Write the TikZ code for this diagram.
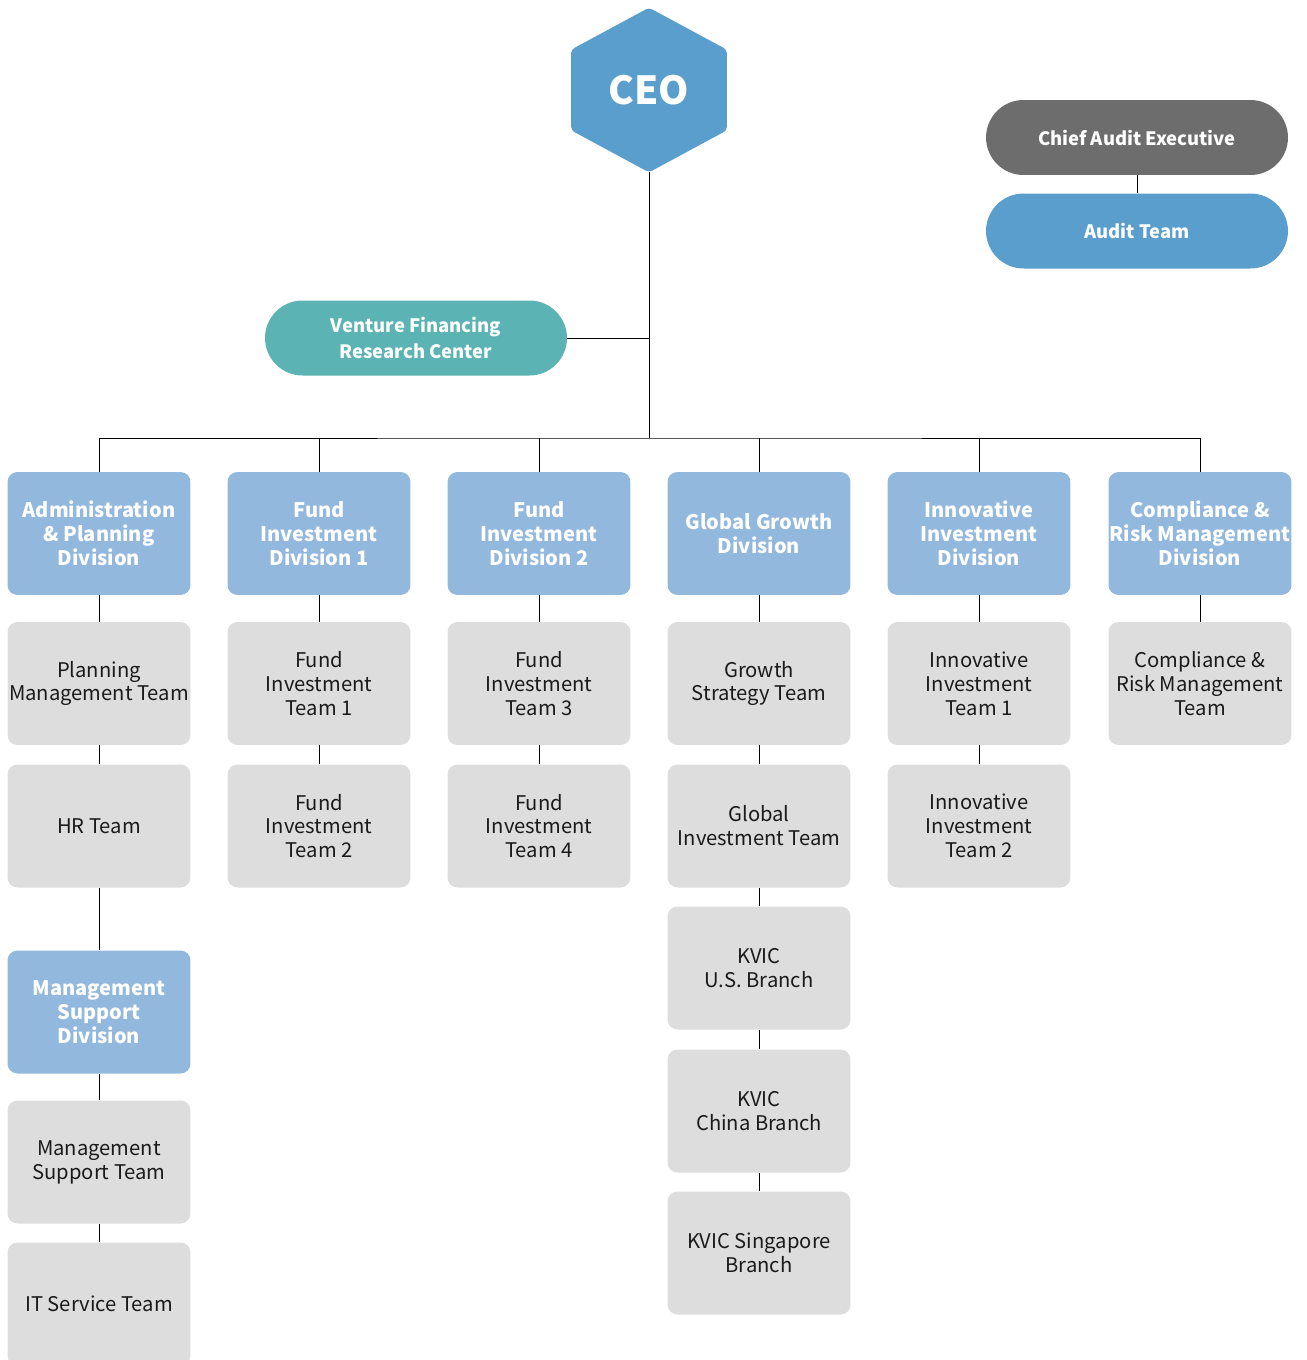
\documentclass[tikz,border=0pt]{standalone}
\usepackage{fontspec}
\setmainfont{Noto Sans CJK KR}
\usetikzlibrary{backgrounds}
\definecolor{ceoblue}{HTML}{5A9ECE}
\definecolor{divblue}{HTML}{92B8DD}
\definecolor{teamgray}{HTML}{DDDDDD}
\definecolor{centerteal}{HTML}{5BB3B3}
\definecolor{auditgray}{HTML}{6D6D6D}
\definecolor{teamtext}{HTML}{1A1A1A}
\tikzset{
  box/.style={rounded corners=0.2cm, minimum width=3.66cm, minimum height=2.46cm,
    align=center, inner sep=0pt, font=\fontsize{11.5}{13.6}\selectfont},
  div/.style={box, fill=divblue, text=white, font=\bfseries\fontsize{11.4}{13.6}\selectfont},
  team/.style={box, fill=teamgray, text=teamtext},
  pill/.style={rounded corners=0.75cm, minimum width=6.04cm, minimum height=1.5cm,
    align=center, inner sep=0pt, text=white, font=\bfseries\fontsize{10.5}{15.3}\selectfont},
  link/.style={line width=0.7pt, black}
}
\begin{document}
\begin{tikzpicture}[x=0.02cm, y=-0.02cm]
  \useasboundingbox (0,0) rectangle (1306,1360);
  % top of the chart
  \node[minimum width=3.1cm, minimum height=3.28cm, inner sep=0pt, text=white,
    font=\bfseries\fontsize{22}{22}\selectfont] (ceo) at (649,90) {CEO};
  \begin{scope}[on background layer]
    \fill[ceoblue, rounded corners=2pt] (ceo.north)
      -- ([yshift=-0.84cm]ceo.north east) -- ([yshift=0.84cm]ceo.south east)
      -- (ceo.south) -- ([yshift=0.84cm]ceo.south west)
      -- ([yshift=-0.84cm]ceo.north west) -- cycle;
  \end{scope}
  \node[pill, fill=auditgray] (cae) at (1137,137.5) {Chief Audit Executive};
  \node[pill, fill=ceoblue] (audit) at (1137,231) {Audit Team};
  \node[pill, fill=centerteal] (vfrc) at (416,338) {Venture Financing\\Research Center};
  \coordinate (bus) at (649,438);

  % divisions
  \node[div] (adm) at (99,533.5) {Administration\\\& Planning\\Division};
  \node[div] (fid1) at (319,533.5) {Fund\\Investment\\Division 1};
  \node[div] (fid2) at (539,533.5) {Fund\\Investment\\Division 2};
  \node[div] (ggd) at (759,533.5) {Global Growth\\Division};
  \node[div] (iid) at (979,533.5) {Innovative\\Investment\\Division};
  \node[div] (crm) at (1200,533.5) {Compliance \&\\Risk Management\\Division};

  % teams
  \node[team] (plan) at (99,683.5) {Planning\\Management Team};
  \node[team] (hr) at (99,826) {HR Team};
  \node[div] (msd) at (99,1012) {Management\\Support\\Division};
  \node[team] (mst) at (99,1162) {Management\\Support Team};
  \node[team] (its) at (99,1304) {IT Service Team};
  \node[team] (fit1) at (319,683.5) {Fund\\Investment\\Team 1};
  \node[team] (fit2) at (319,826) {Fund\\Investment\\Team 2};
  \node[team] (fit3) at (539,683.5) {Fund\\Investment\\Team 3};
  \node[team] (fit4) at (539,826) {Fund\\Investment\\Team 4};
  \node[team] (gst) at (759,683.5) {Growth\\Strategy Team};
  \node[team] (git) at (759,826) {Global\\Investment Team};
  \node[team] (kus) at (759,968) {KVIC\\U.S. Branch};
  \node[team] (kcn) at (759,1111) {KVIC\\China Branch};
  \node[team] (ksg) at (759,1253) {KVIC Singapore\\Branch};
  \node[team] (iit1) at (979,683.5) {Innovative\\Investment\\Team 1};
  \node[team] (iit2) at (979,826) {Innovative\\Investment\\Team 2};
  \node[team] (crmt) at (1200,683.5) {Compliance \&\\Risk Management\\Team};

  \begin{scope}[on background layer, link]
    \draw (cae) -- (audit);
    \draw (ceo.south) -- (bus);
    \draw (vfrc.east) -- (vfrc.east -| ceo.south);
    \draw (adm.north) |- (bus) -| (crm.north);
    \draw (fid1.north) -- (fid1.north |- bus);
    \draw (fid2.north) -- (fid2.north |- bus);
    \draw (ggd.north) -- (ggd.north |- bus);
    \draw (iid.north) -- (iid.north |- bus);
    \draw (adm) -- (plan) -- (hr) -- (msd) -- (mst) -- (its);
    \draw (fid1) -- (fit1) -- (fit2);
    \draw (fid2) -- (fit3) -- (fit4);
    \draw (ggd) -- (gst) -- (git) -- (kus) -- (kcn) -- (ksg);
    \draw (iid) -- (iit1) -- (iit2);
    \draw (crm) -- (crmt);
  \end{scope}
\end{tikzpicture}
\end{document}
